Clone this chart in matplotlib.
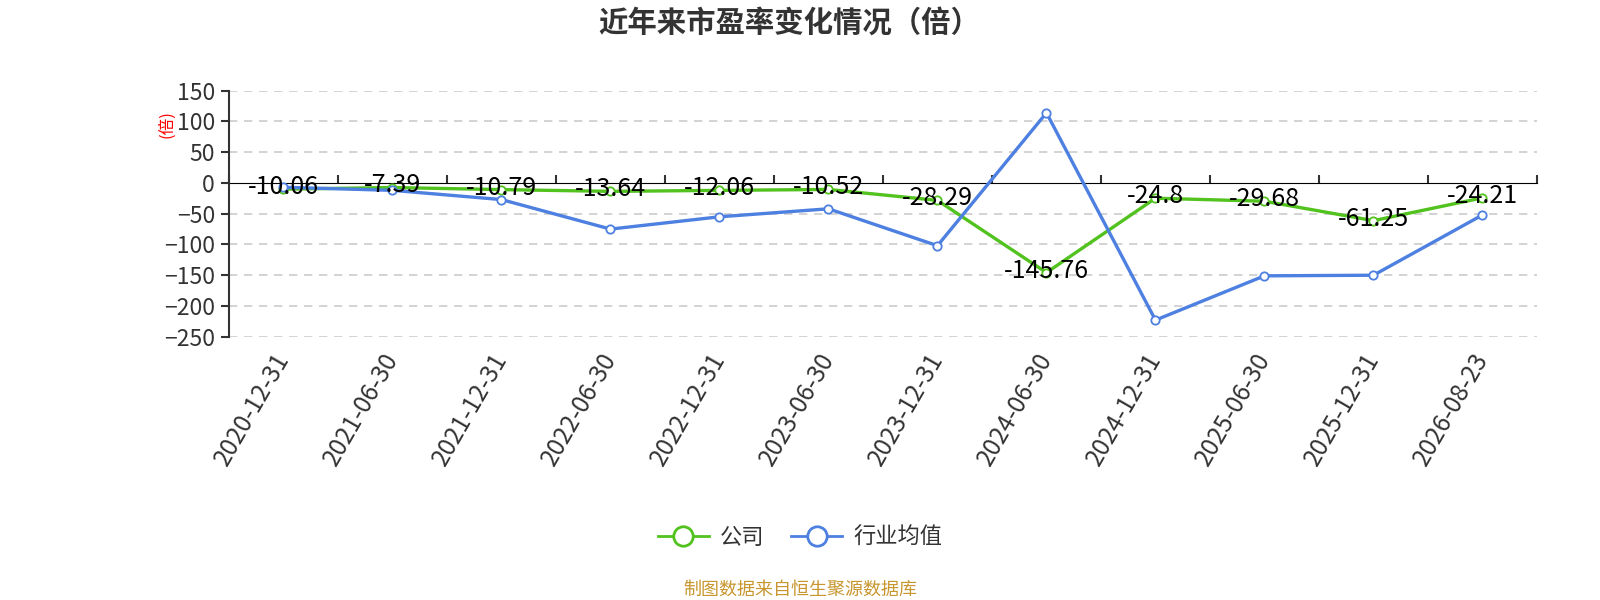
import matplotlib
matplotlib.use("Agg")
import matplotlib.pyplot as plt
from matplotlib.lines import Line2D

plt.rcParams['font.family'] = ['Noto Sans CJK SC', 'DejaVu Sans']

categories = ["2020-12-31", "2021-06-30", "2021-12-31", "2022-06-30", "2022-12-31",
              "2023-06-30", "2023-12-31", "2024-06-30", "2024-12-31", "2025-06-30",
              "2025-12-31", "2026-08-23"]
company = [-10.06, -7.39, -10.79, -13.64, -12.06, -10.52, -28.29, -145.76,
           -24.8, -29.68, -61.25, -24.21]
industry = [-7, -12, -27, -75, -55, -42, -102, 114, -223, -151, -150, -52]
yticks = [150, 100, 50, 0, -50, -100, -150, -200, -250]

title = "近年来市盈率变化情况（倍）"
series_names = ["公司", "行业均值"]
source = "制图数据来自恒生聚源数据库"

GREEN = "#52C21E"
BLUE = "#4D80E0"
DARK = "#333333"

fig = plt.figure(figsize=(16, 6), dpi=100)
ax = fig.add_axes([0.1431, 0.4388, 0.8175, 0.41])
ymin, ymax = -250, 150
ax.set_ylim(ymin, ymax)
ax.set_xlim(-0.5, len(categories) - 0.5)

x = list(range(len(categories)))

# grid
ax.set_yticks(yticks)
ax.yaxis.grid(True, color="#cccccc", linestyle=(0, (5, 4)), linewidth=1.2)
ax.set_axisbelow(True)
for val, gl in zip(yticks, ax.get_ygridlines()):
    if val == 0:
        gl.set_visible(False)

for s in ["top", "right", "bottom"]:
    ax.spines[s].set_visible(False)
ax.spines["left"].set_color(DARK)
ax.spines["left"].set_linewidth(1.5)
ax.tick_params(axis="y", direction="out", length=6, width=1.5, color=DARK,
               labelsize=16.5, labelcolor=DARK, pad=4)

ax.set_xticks(x)
ax.set_xticklabels(categories, rotation=60, ha="right", va="center",
                   rotation_mode="anchor", fontsize=17.5, color=DARK)
ax.tick_params(axis="x", length=0, pad=13)

# zero axis line with boundary ticks
loc = (0 - ymin) / (ymax - ymin)
sec = ax.secondary_xaxis(loc)
sec.spines["bottom"].set_color(DARK)
sec.spines["bottom"].set_linewidth(1.5)
sec.set_xticks([i - 0.5 for i in range(len(categories) + 1)])
sec.set_xticklabels([])
sec.tick_params(axis="x", direction="out", length=6, width=1.5, color=DARK)

ax.plot(x, company, color=GREEN, linewidth=2.4, marker="o", markersize=6,
        markerfacecolor="white", markeredgecolor=GREEN, markeredgewidth=1.3,
        zorder=3, clip_on=False)
ax.plot(x, industry, color=BLUE, linewidth=2.4, marker="o", markersize=6,
        markerfacecolor="white", markeredgecolor=BLUE, markeredgewidth=1.3,
        zorder=4, clip_on=False)

for xi, v in zip(x, company):
    ax.annotate(f"{v:g}", (xi, v), xytext=(0, 1.5), textcoords="offset points",
                ha="center", va="center", fontsize=18, color="black", zorder=6)

fig.text(0.4935, 0.962, title, ha="center", va="center", fontsize=21.2,
         fontweight="bold", color=DARK)
fig.text(0.104, 0.793, "(倍)", ha="center", va="center", rotation=90,
         fontsize=12, color="red")

handles = [Line2D([0], [0], color=GREEN, linewidth=2, marker="o", markersize=14,
                  markerfacecolor="white", markeredgecolor=GREEN, markeredgewidth=2),
           Line2D([0], [0], color=BLUE, linewidth=2, marker="o", markersize=14,
                  markerfacecolor="white", markeredgecolor=BLUE, markeredgewidth=2)]
leg = fig.legend(handles, series_names, loc="center", bbox_to_anchor=(0.5, 0.105),
                 ncol=2, frameon=False, fontsize=16, handlelength=2.3,
                 columnspacing=1.2, handletextpad=0.5)
for t in leg.get_texts():
    t.set_color(DARK)

fig.text(0.5, 0.017, source, ha="center", va="center", fontsize=13,
         color="#C8962E")

fig.savefig("out.png", dpi=100)
